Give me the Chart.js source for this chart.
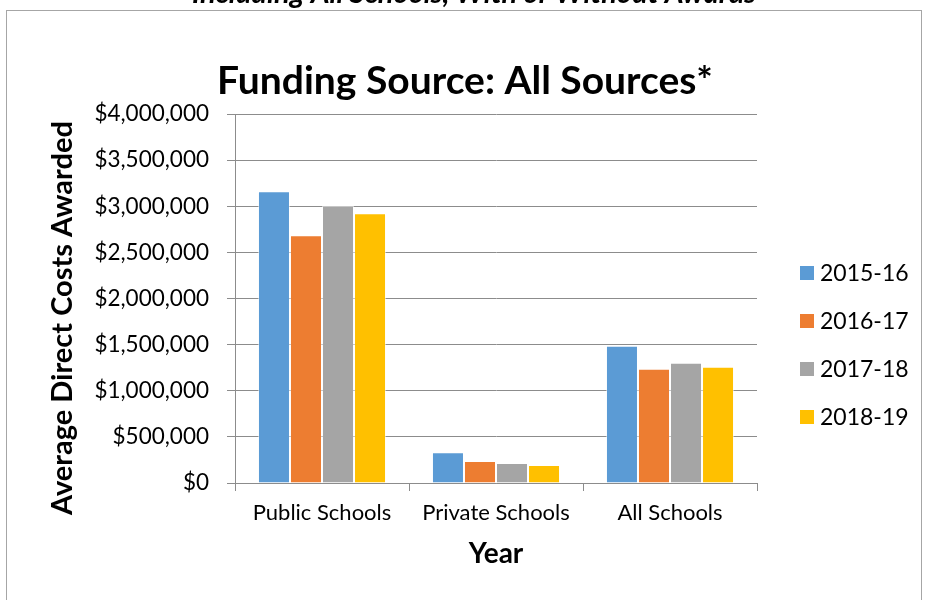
<!DOCTYPE html>
<html lang="en">
<head>
    <meta charset="UTF-8">
    <title>Funding Source: All Sources</title>
    <script src="https://cdn.jsdelivr.net/npm/chart.js"></script>
    <style>
        html, body { margin: 0; padding: 0; background: #fff; }
        .chart-container { position: relative; width: 925px; height: 600px; }
    </style>
</head>
<body>
    <div class="chart-container">
        <canvas id="fundingChart"></canvas>
    </div>
    <script>
        // data
        const categories = ['Public Schools', 'Private Schools', 'All Schools'];
        const years = ['2015-16', '2016-17', '2017-18', '2018-19'];
        const values2015 = [3162000, 333000, 1488000];
        const values2016 = [2685000, 238000, 1239000];
        const values2017 = [3003000, 217000, 1304000];
        const values2018 = [2924000, 195000, 1261000];
        const yTicks = [0, 500000, 1000000, 1500000, 2000000, 2500000, 3000000, 3500000, 4000000];

        const colors = ['#5B9BD5', '#ED7D31', '#A5A5A5', '#FFC000'];
        const font = 'Lato, "Open Sans", sans-serif';

        // frame, cut-off heading, title, y title and legend drawn on top of the chart
        const extras = {
            id: 'extras',
            afterDraw(chart) {
                const ctx = chart.ctx;
                ctx.save();
                ctx.strokeStyle = '#a6a6a6';
                ctx.lineWidth = 1;
                ctx.strokeRect(6.5, 10.5, 915, 620);

                ctx.fillStyle = '#000';
                ctx.textAlign = 'center';
                ctx.textBaseline = 'alphabetic';
                ctx.font = 'italic bold 29px ' + font;
                ctx.fillText('Including All Schools, With or Without Awards', 474, 3);

                ctx.font = 'bold 39px ' + font;
                ctx.fillText('Funding Source: All Sources*', 465, 94);

                // y axis title, sits a bit lower than the plot centre in the original
                ctx.save();
                ctx.translate(63, 318);
                ctx.rotate(-Math.PI / 2);
                ctx.textBaseline = 'middle';
                ctx.font = 'bold 29px ' + font;
                ctx.fillText('Average Direct Costs Awarded', 0, 0);
                ctx.restore();

                // legend
                ctx.textAlign = 'left';
                ctx.textBaseline = 'middle';
                ctx.font = '23px ' + font;
                chart.data.datasets.forEach((ds, i) => {
                    const y = 273 + i * 48;
                    ctx.fillStyle = ds.backgroundColor;
                    ctx.fillRect(800, y - 7, 14, 14);
                    ctx.fillStyle = '#000';
                    ctx.fillText(ds.label, 820, y + 1);
                });
                ctx.restore();
            }
        };

        const seriesValues = [values2015, values2016, values2017, values2018];
        const ctx = document.getElementById('fundingChart').getContext('2d');
        new Chart(ctx, {
            type: 'bar',
            data: {
                labels: categories,
                datasets: years.map((y, i) => ({
                    label: y,
                    data: seriesValues[i],
                    backgroundColor: colors[i],
                    borderColor: 'rgba(255,255,255,0.5)',
                    borderWidth: 1,
                    barPercentage: 1,
                    categoryPercentage: 0.736
                }))
            },
            options: {
                responsive: true,
                maintainAspectRatio: false,
                animation: false,
                layout: { padding: { top: 114, left: 42, right: 168, bottom: 25 } },
                plugins: {
                    legend: { display: false },
                    tooltip: { enabled: false }
                },
                scales: {
                    x: {
                        afterFit: (scale) => { scale.height = 92; },
                        grid: { offset: true, drawOnChartArea: false, drawTicks: true, tickLength: 8, color: '#8c8c8c' },
                        border: { color: '#8c8c8c', width: 1 },
                        ticks: { color: '#000', padding: 9, font: { family: font, size: 22 } },
                        title: {
                            display: true,
                            text: 'Year',
                            color: '#000',
                            font: { family: font, size: 28, weight: 'bold' },
                            padding: { top: 4, bottom: 4 }
                        }
                    },
                    y: {
                        min: 0,
                        max: 4000000,
                        afterFit: (scale) => { scale.width = 235 - 42; },
                        afterBuildTicks: (scale) => { scale.ticks = yTicks.map(v => ({ value: v })); },
                        grid: { color: '#8c8c8c', tickLength: 8 },
                        border: { color: '#8c8c8c', width: 1 },
                        ticks: {
                            color: '#000',
                            padding: 18,
                            font: { family: font, size: 22.5 },
                            callback: (v) => '$' + Number(v).toLocaleString('en-US')
                        },
                        title: { display: false }
                    }
                }
            },
            plugins: [extras]
        });
    </script>
</body>
</html>
